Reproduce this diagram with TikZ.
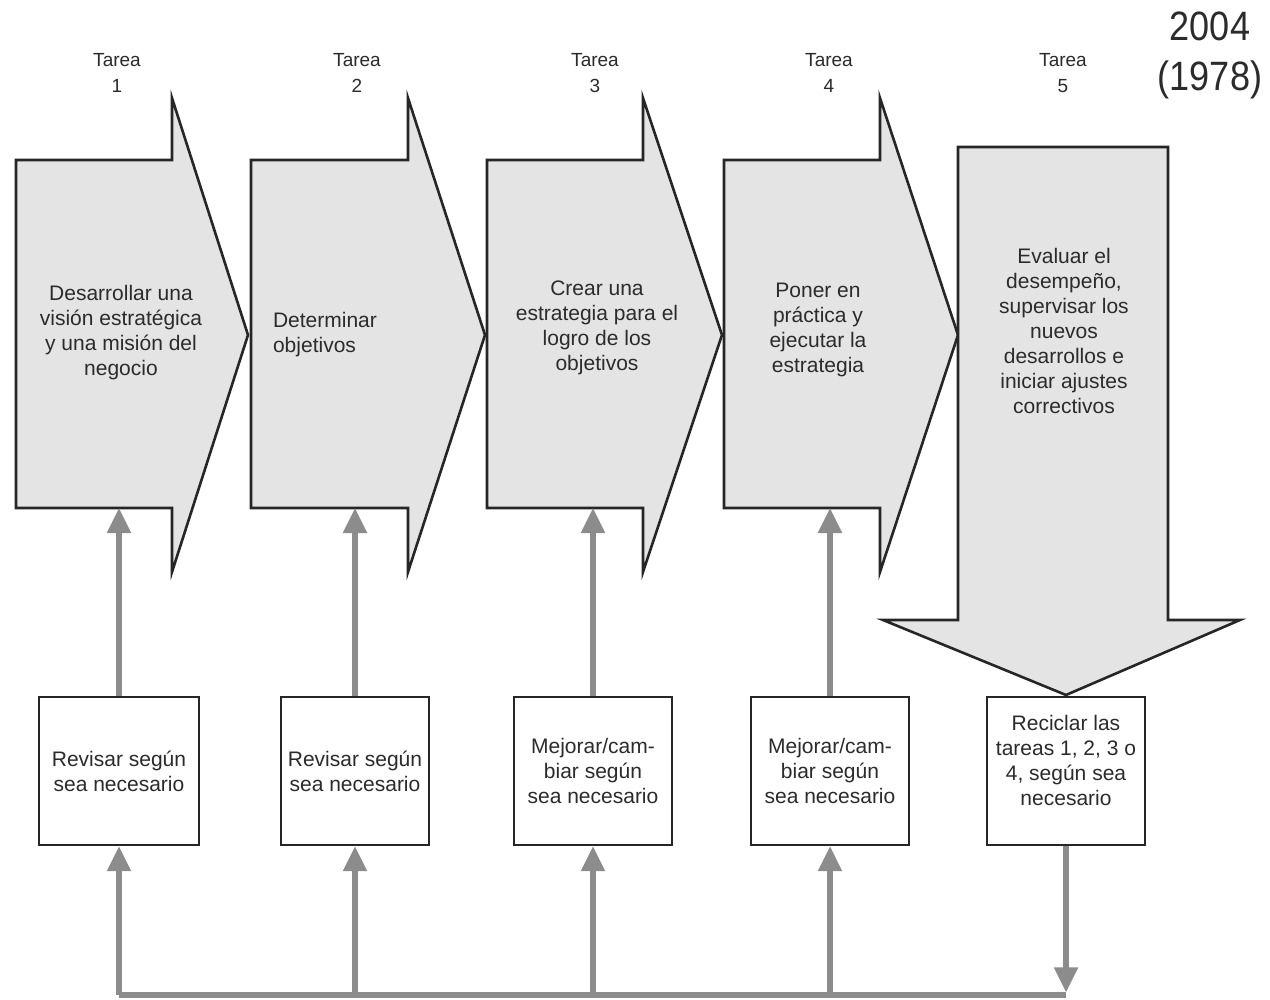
\documentclass[tikz,border=0pt]{standalone}
\usepackage{fontspec}
\setmainfont{Liberation Sans}
\newfontfamily\yearfont{Liberation Sans}[FakeStretch=0.88]
\usetikzlibrary{arrows.meta}
\definecolor{arrowgray}{HTML}{E4E4E4}
\definecolor{conn}{HTML}{8C8C8C}
\definecolor{txt}{HTML}{2B2B2B}
\begin{document}
\begin{tikzpicture}[x=0.5pt,y=-0.5pt,
  bigarrow/.style={draw=black!85, line width=1.3pt, fill=arrowgray, line join=miter},
  intext/.style={align=center, font=\fontsize{10.5}{12.5}\selectfont, text=txt, inner sep=0pt},
  tarealbl/.style={align=center, font=\fontsize{9.5}{13}\selectfont, text=txt, inner sep=0pt},
  revbox/.style={draw=black!85, line width=1.1pt, fill=white, minimum width=79pt, minimum height=74pt, inner sep=0pt, align=center, font=\fontsize{10.5}{12.5}\selectfont, text=txt},
  feed/.style={draw=conn, line width=2.6pt, -{Triangle[length=12.5pt,width=11.5pt]}},
  feedline/.style={draw=conn, line width=2.6pt, line cap=square}]
\fill[white] (0,0) rectangle (1270,1000);
\useasboundingbox (0,0) rectangle (1270,1000);

% year
\node[align=center, font=\yearfont\fontsize{20.5}{25}\selectfont, text=txt, inner sep=0pt] (year) at (1210,55) {2004\\(1978)};

% task labels
\node[tarealbl] (ta1) at (117,73) {Tarea\\1};
\node[tarealbl] (ta2) at (357,73) {Tarea\\2};
\node[tarealbl] (ta3) at (595,73) {Tarea\\3};
\node[tarealbl] (ta4) at (829,73) {Tarea\\4};
\node[tarealbl] (ta5) at (1063,73) {Tarea\\5};

% big arrows
\draw[bigarrow] (16,160) -- (172,160) -- (172,98) -- (248,335) -- (172,572) -- (172,508) -- (16,508) -- cycle;
\draw[bigarrow] (251,160) -- (408,160) -- (408,98) -- (485,335) -- (408,572) -- (408,508) -- (251,508) -- cycle;
\draw[bigarrow] (487,160) -- (643,160) -- (643,98) -- (722,335) -- (643,572) -- (643,508) -- (487,508) -- cycle;
\draw[bigarrow] (724,160) -- (880,160) -- (880,98) -- (958,335) -- (880,572) -- (880,508) -- (724,508) -- cycle;
\draw[bigarrow] (958,147) -- (1168,147) -- (1168,620) -- (1240,620) -- (1066,695) -- (883,620) -- (958,620) -- cycle;

\node[intext] (t1) at (121,333) {Desarrollar una\\visión estratégica\\y una misión del\\negocio};
\node[intext, align=left] (t2) at (325,335) {Determinar\\objetivos};
\node[intext] (t3) at (597,328) {Crear una\\estrategia para el\\logro de los\\objetivos};
\node[intext] (t4) at (818,330) {Poner en\\práctica y\\ejecutar la\\estrategia};
\node[intext] (t5) at (1064,331) {Evaluar el\\desempeño,\\supervisar los\\nuevos\\desarrollos e\\iniciar ajustes\\correctivos};

% arrow bottom points
\coordinate (a1) at (119,508);
\coordinate (a2) at (355,508);
\coordinate (a3) at (593,508);
\coordinate (a4) at (830,508);

% boxes
\node[revbox, minimum width=80pt] (b1) at (119,771) {Revisar según\\sea necesario};
\node[revbox, minimum width=74pt] (b2) at (355,771) {Revisar según\\sea necesario};
\node[revbox] (b3) at (593,771) {Mejorar/cam-\\biar según\\sea necesario};
\node[revbox] (b4) at (830,771) {Mejorar/cam-\\biar según\\sea necesario};
\node[revbox] (b5) at (1066,771) {};
\node[intext] (t6) at (1066,760) {Reciclar las\\tareas 1, 2, 3 o\\4, según sea\\necesario};

% feedback connectors
\draw[feed] (b1.north) -- (a1);
\draw[feed] (b2.north) -- (a2);
\draw[feed] (b3.north) -- (a3);
\draw[feed] (b4.north) -- (a4);

\coordinate (corner) at (1066,995);
\coordinate (base1) at (b1.south |- corner);
\coordinate (base2) at (b2.south |- corner);
\coordinate (base3) at (b3.south |- corner);
\coordinate (base4) at (b4.south |- corner);

\draw[feedline] (base1) -- (corner);
\draw[feed, shorten >=1.3pt] (b5.south) -- (corner);
\draw[feed] (base1) -- (b1.south);
\draw[feed] (base2) -- (b2.south);
\draw[feed] (base3) -- (b3.south);
\draw[feed] (base4) -- (b4.south);
\end{tikzpicture}
\end{document}
